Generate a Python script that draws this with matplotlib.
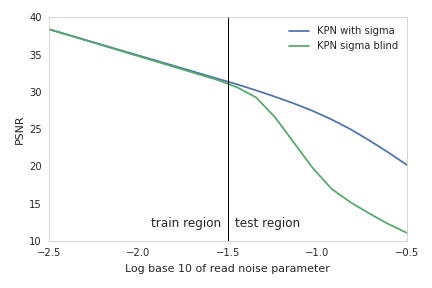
import numpy as np
import matplotlib
matplotlib.use("Agg")
import matplotlib.pyplot as plt
import seaborn as sns

# x axis: log10 of the read noise, 20 evenly spaced points
log_noise = np.linspace(-2.5, -0.5, 20)

psnr_with_sigma = [38.4, 37.66, 36.92, 36.18, 35.44, 34.7, 33.96, 33.22, 32.48, 31.74,
                   31.0, 30.2, 29.35, 28.45, 27.45, 26.3, 25.0, 23.5, 21.9, 20.2]
psnr_sigma_blind = [38.4, 37.64, 36.88, 36.12, 35.36, 34.6, 33.84, 33.08, 32.32, 31.56,
                    30.6, 29.25, 26.6, 23.2, 19.8, 17.0, 15.2, 13.7, 12.3, 11.1]

sns.set_style("white")
plt.rcParams["axes.edgecolor"] = "#cccccc"

fig, ax = plt.subplots(figsize=(6, 4), dpi=72)
ax.plot(log_noise, psnr_with_sigma, color="#4C72B0", lw=1.75, label="KPN with sigma")
ax.plot(log_noise, psnr_sigma_blind, color="#55A868", lw=1.75, label="KPN sigma blind")

# boundary between training and testing noise levels
ax.axvline(-1.5, color="black", lw=1)
ax.text(-1.54, 12.3, "train region", ha="right", va="center", fontsize=12, color="#262626")
ax.text(-1.46, 12.3, "test region", ha="left", va="center", fontsize=12, color="#262626")

ax.set_xlim(-2.5, -0.5)
ax.set_ylim(10, 40)
ax.set_xticks([-2.5, -2.0, -1.5, -1.0, -0.5])
ax.set_xlabel("Log base 10 of read noise parameter", fontsize=11, labelpad=6)
ax.set_ylabel("PSNR", fontsize=11)
ax.tick_params(labelsize=10)
ax.legend(loc="upper right", frameon=False, fontsize=10)

fig.subplots_adjust(left=0.113, right=0.942, top=0.94, bottom=0.163)
fig.savefig("out.png")
